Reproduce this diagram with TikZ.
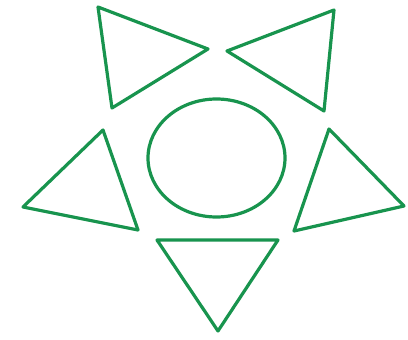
\documentclass[tikz,border=0pt]{standalone}
\usetikzlibrary{shapes.geometric}
\definecolor{stargreen}{RGB}{24,148,78}
\begin{document}
\begin{tikzpicture}[x=1pt,y=-1pt,
  shp/.style={draw=stargreen,line width=3.2pt,line join=round}]
\useasboundingbox (0,0) rectangle (408,340);
\draw[shp] (98,7) coordinate (a1) -- (208,49) coordinate (a2) -- (112,108) coordinate (a3) -- cycle;
\draw[shp] (227,51) coordinate (b1) -- (334,10) coordinate (b2) -- (324,111) coordinate (b3) -- cycle;
\draw[shp] (103,130) coordinate (c1) -- (23,207) coordinate (c2) -- (138,230) coordinate (c3) -- cycle;
\draw[shp] (329,129) coordinate (d1) -- (404,206) coordinate (d2) -- (294,231) coordinate (d3) -- cycle;
\draw[shp] (157,240) coordinate (e1) -- (278,240) coordinate (e2) -- (218,331) coordinate (e3) -- cycle;
\node[shp,ellipse,minimum width=137pt,minimum height=118pt,inner sep=0pt] (circ) at (216.5,158) {};
\end{tikzpicture}
\end{document}
